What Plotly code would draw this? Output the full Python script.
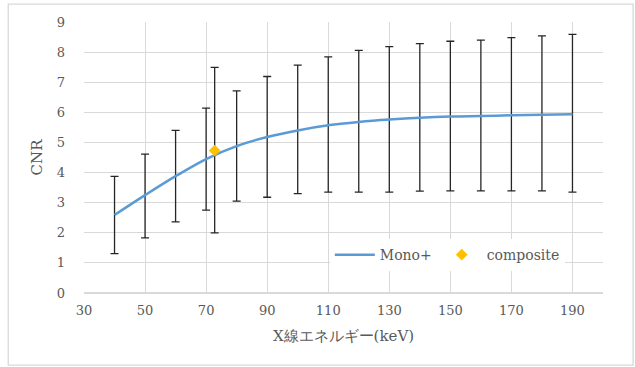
import plotly.graph_objects as go

energy = [40, 50, 60, 70, 80, 90, 100, 110, 120, 130, 140, 150, 160, 170, 180, 190]
mono_cnr = [2.59, 3.25, 3.88, 4.45, 4.88, 5.18, 5.40, 5.57, 5.68, 5.76, 5.82, 5.86, 5.88, 5.90, 5.92, 5.94]
mono_upper = [3.87, 4.61, 5.40, 6.14, 6.71, 7.19, 7.57, 7.84, 8.06, 8.18, 8.28, 8.36, 8.40, 8.48, 8.54, 8.59]
mono_lower = [1.31, 1.83, 2.36, 2.75, 3.05, 3.18, 3.30, 3.35, 3.35, 3.35, 3.38, 3.39, 3.39, 3.39, 3.39, 3.35]

comp_energy = [72.8]
comp_cnr = [4.73]
comp_upper = [7.49]
comp_lower = [2.00]

x_ticks = [30, 50, 70, 90, 110, 130, 150, 170, 190]

font_fam = "DejaVu Serif"
grey = "#595959"
grid = "#d9d9d9"

fig = go.Figure()
fig.add_trace(go.Scatter(
    x=energy, y=mono_cnr, mode="lines", name="Mono+",
    line=dict(color="#5b9bd5", width=2.5, shape="spline"),
    error_y=dict(type="data", symmetric=False,
                 array=[u - v for u, v in zip(mono_upper, mono_cnr)],
                 arrayminus=[v - l for v, l in zip(mono_cnr, mono_lower)],
                 color="#262626", thickness=1.3, width=4),
))
fig.add_trace(go.Scatter(
    x=comp_energy, y=comp_cnr, mode="markers", name="composite",
    marker=dict(symbol="diamond", color="#ffc000", size=9),
    error_y=dict(type="data", symmetric=False,
                 array=[u - v for u, v in zip(comp_upper, comp_cnr)],
                 arrayminus=[v - l for v, l in zip(comp_cnr, comp_lower)],
                 color="#262626", thickness=1.3, width=4),
))

fig.add_shape(type="rect", xref="paper", yref="paper",
              x0=-0.146, x1=1.058, y0=-0.266, y1=1.066,
              line=dict(color=grid, width=1.3), layer="below")

fig.update_layout(
    width=635, height=367,
    margin=dict(l=84, r=32, t=22, b=74),
    paper_bgcolor="white", plot_bgcolor="white",
    font=dict(family=font_fam, color=grey, size=13),
    xaxis=dict(range=[30, 200], tickvals=x_ticks, showgrid=True, gridcolor=grid,
               gridwidth=1, zeroline=False, showline=False,
               ticks="", ticklabelstandoff=8, tickfont=dict(size=13, color=grey),
               title=dict(text="X線エネルギー(keV)", font=dict(size=15, color=grey), standoff=13)),
    yaxis=dict(range=[0, 9], dtick=1, showgrid=True, gridcolor=grid, gridwidth=1,
               zeroline=True, zerolinecolor=grid, zerolinewidth=1.5, showline=False,
               ticks="", ticklabelstandoff=18, tickfont=dict(size=13, color=grey),
               title=dict(text="CNR", font=dict(size=15, color=grey), standoff=10)),
    legend=dict(orientation="h", x=0.70, y=0.14, xanchor="center", yanchor="middle",
                bgcolor="white", font=dict(size=14, color=grey), itemwidth=40,
                tracegroupgap=0),
    showlegend=True,
)

fig.write_html("out.html")
